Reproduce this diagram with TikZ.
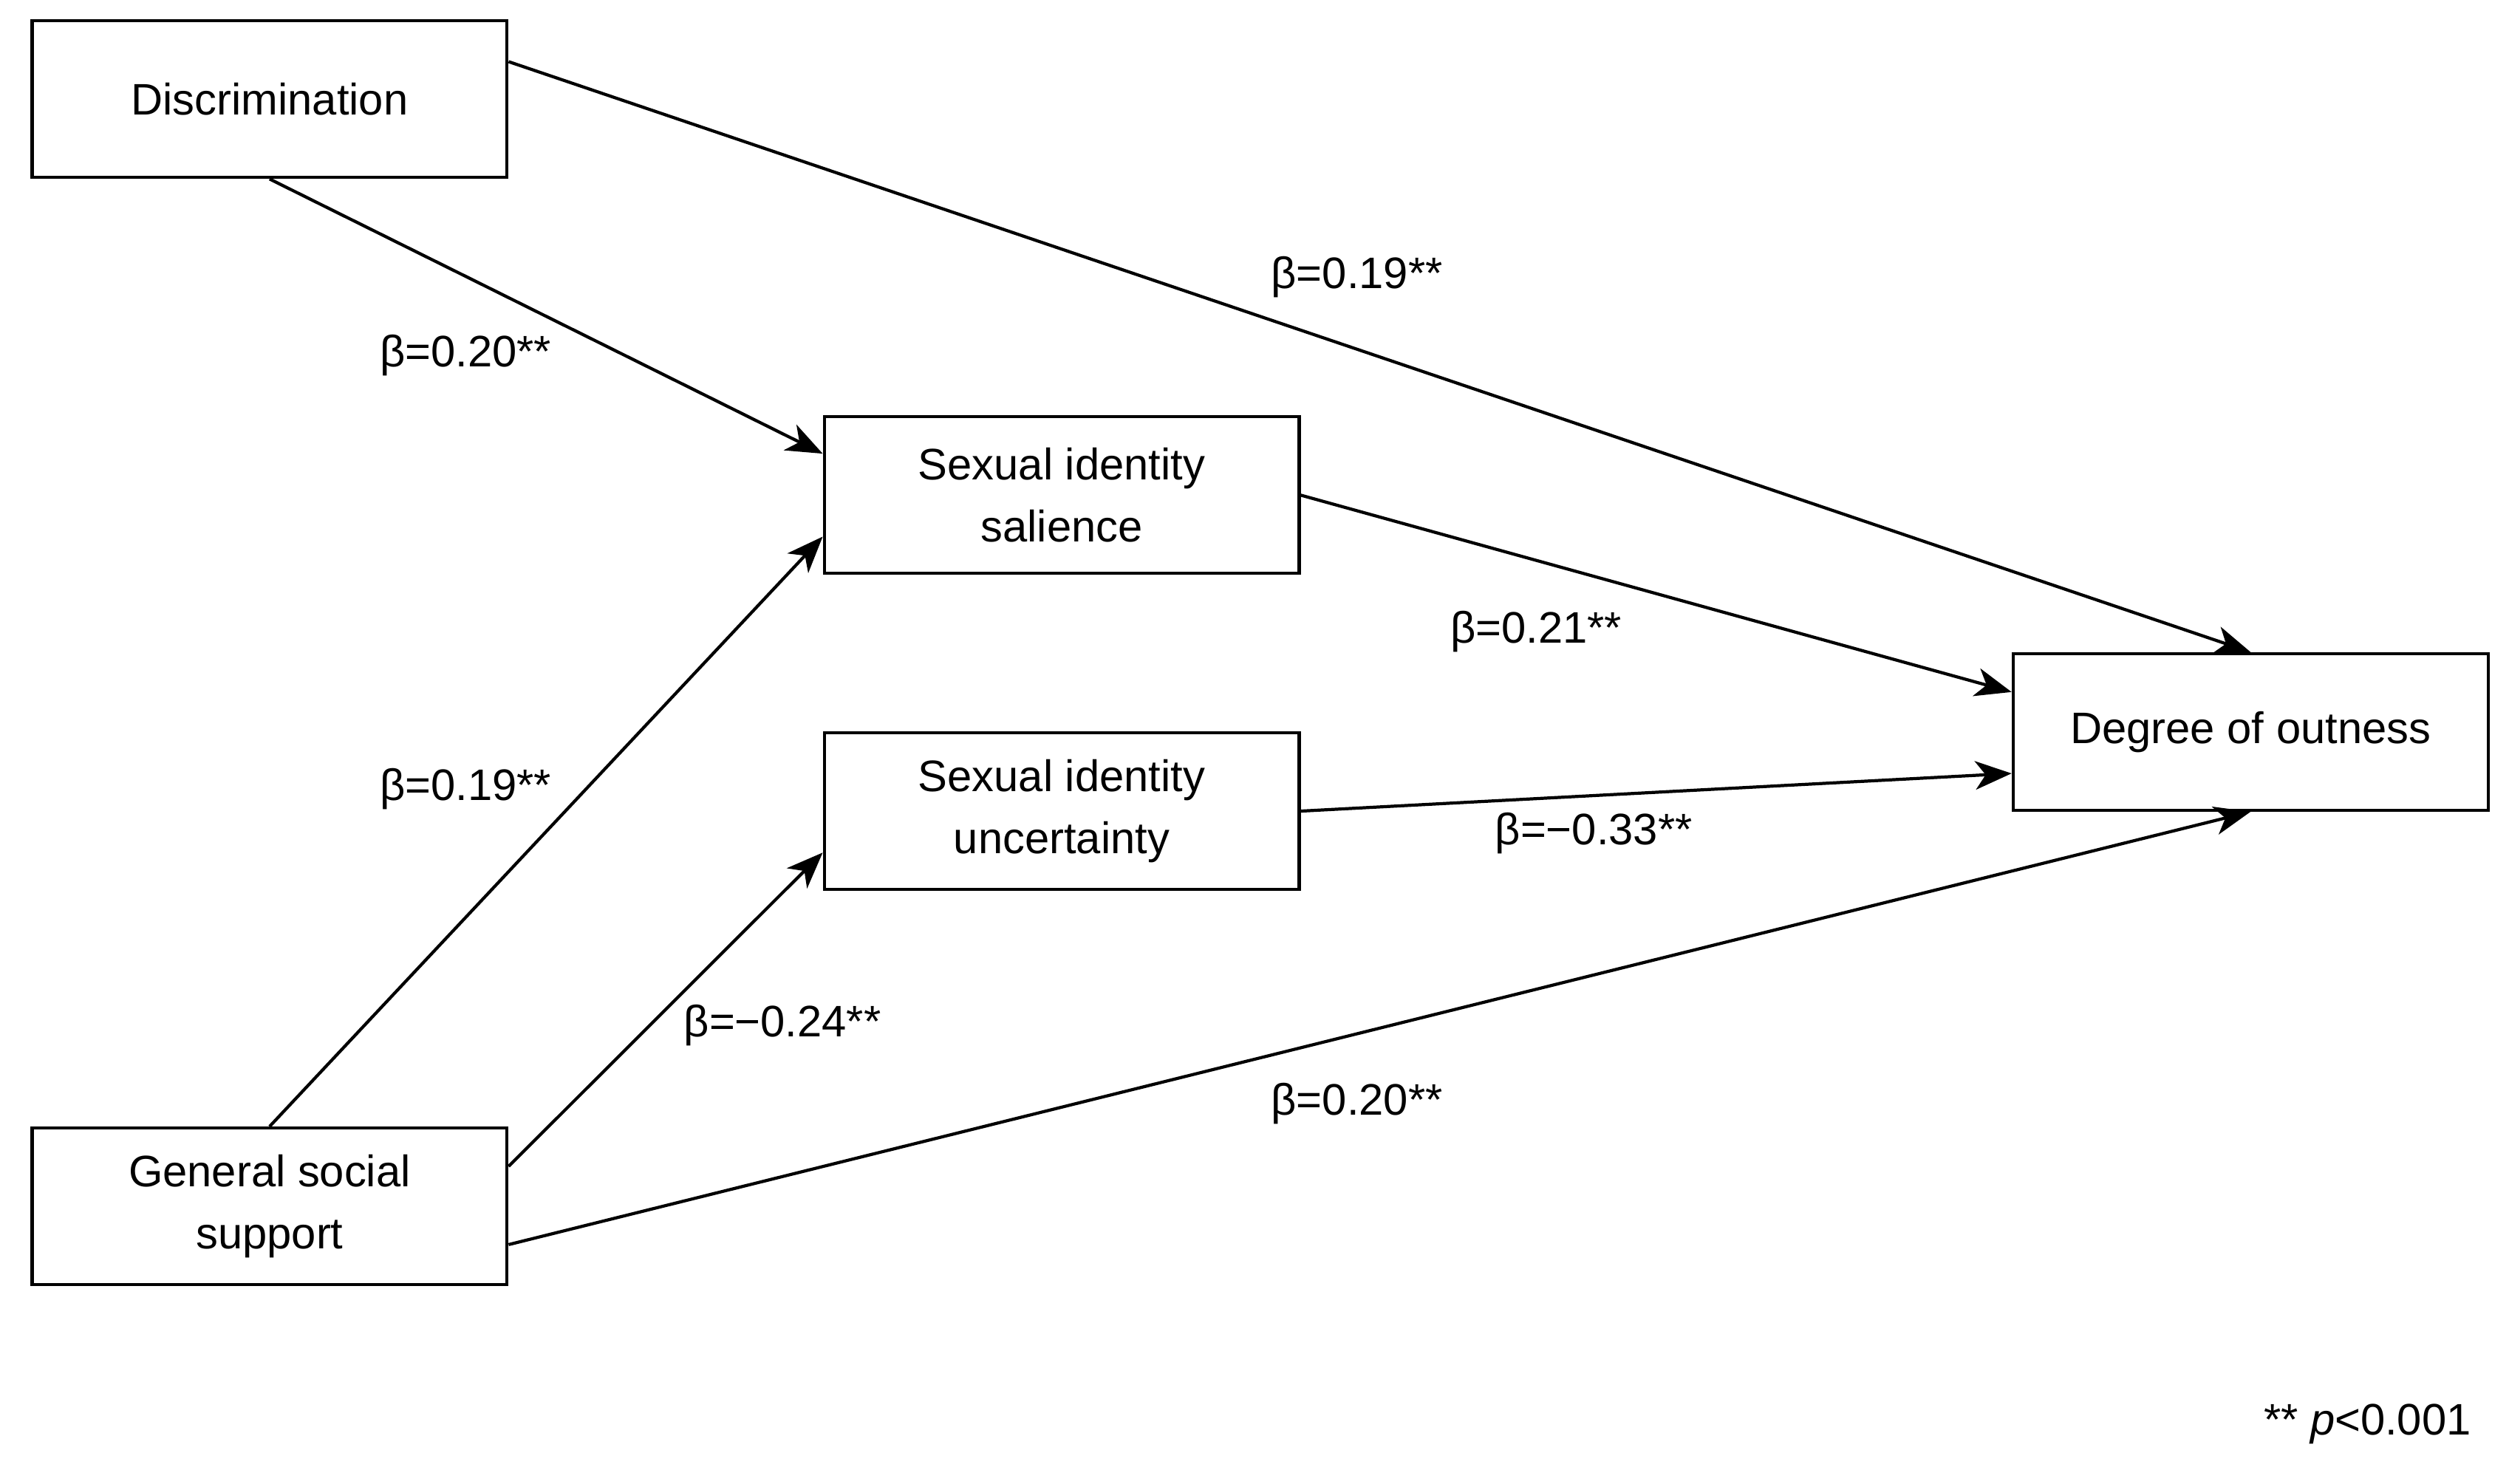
\documentclass[tikz,border=0pt]{standalone}
\usepackage{fontspec}
\setmainfont{Liberation Sans}
\usetikzlibrary{arrows.meta,calc}
\begin{document}
\begin{tikzpicture}[x=0.02166cm,y=-0.02166cm,
  box/.style={draw,line width=1.2pt,minimum width=6.43cm,minimum height=2.12cm,align=center,font=\fontsize{17}{24}\selectfont,inner sep=0pt},
  lab/.style={font=\fontsize{17}{20}\selectfont},
  arr/.style={line width=1.2pt,-{Stealth[length=14pt,width=11pt,inset=4pt]}}]
\useasboundingbox (0,0) rectangle (1568,927.5);
\node[box] (disc) at (168.5,62) {Discrimination};
\node[box] (sal) at (663.5,309.5) {Sexual identity\\salience};
\node[box] (unc) at (663.5,507) {Sexual identity\\uncertainty};
\node[box] (gss) at (168.5,754) {General social\\support};
\node[box] (out) at (1406.5,457.5) {Degree of outness};
\draw[arr] ($(disc.north east)!0.265!(disc.south east)$) -- (out.north);
\draw[arr] (disc.south) -- ($(sal.north west)!0.24!(sal.south west)$);
\draw[arr] (sal.east) -- ($(out.north west)!0.25!(out.south west)$);
\draw[arr] (unc.east) -- ($(out.north west)!0.76!(out.south west)$);
\draw[arr] (gss.north) -- ($(sal.north west)!0.76!(sal.south west)$);
\draw[arr] ($(gss.north east)!0.25!(gss.south east)$) -- ($(unc.north west)!0.76!(unc.south west)$);
\draw[arr] ($(gss.north east)!0.74!(gss.south east)$) -- (out.south);
\node[lab] (l1) at (848,173) {β=0.19**};
\node[lab] (l2) at (291,222) {β=0.20**};
\node[lab] (l3) at (960,395) {β=0.21**};
\node[lab] (l4) at (291,493) {β=0.19**};
\node[lab] (l5) at (996,521) {β=−0.33**};
\node[lab] (l6) at (489,641) {β=−0.24**};
\node[lab] (l7) at (848,690) {β=0.20**};
\node[lab,anchor=east] (p) at (1550,890) {** \textit{p}<0.001};
\end{tikzpicture}
\end{document}
